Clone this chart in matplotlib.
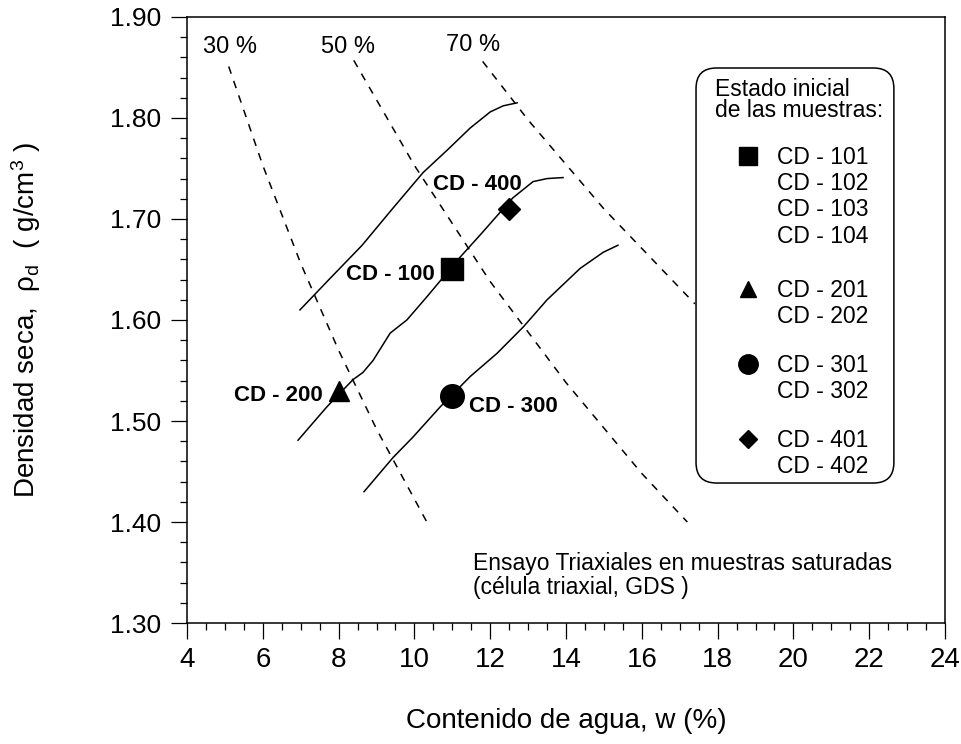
import matplotlib
matplotlib.use("Agg")
import matplotlib.pyplot as plt
from matplotlib.patches import FancyBboxPatch
from matplotlib.ticker import MultipleLocator, FormatStrFormatter

plt.rcParams['font.family'] = ['Liberation Sans', 'DejaVu Sans']
plt.rcParams['mathtext.fontset'] = 'custom'
plt.rcParams['mathtext.rm'] = 'Liberation Sans'
plt.rcParams['mathtext.it'] = 'Liberation Sans'

NARROW = ['Liberation Sans Narrow', 'Liberation Sans', 'DejaVu Sans']

# Saturation lines (Sr = 30, 50, 70 %)
w_sat30 = [5.1, 6.0, 7.0, 8.0, 9.0, 10.4]
rho_sat30 = [1.851, 1.753, 1.656, 1.570, 1.492, 1.395]
w_sat50 = [8.4, 10.0, 12.0, 14.0, 16.0, 17.2]
rho_sat50 = [1.857, 1.753, 1.638, 1.538, 1.448, 1.400]
w_sat70 = [11.8, 13.0, 15.0, 17.4]
rho_sat70 = [1.856, 1.798, 1.710, 1.616]
sat_labels = ['30 %', '50 %', '70 %']
sat_label_w = [4.42, 7.54, 10.83]
sat_label_rho = [1.864, 1.864, 1.866]

# Compaction curves
w_c1 = [6.98, 7.77, 8.62, 9.44, 10.23, 10.86, 11.47, 12.0, 12.34, 12.71]
rho_c1 = [1.610, 1.641, 1.674, 1.711, 1.746, 1.768, 1.790, 1.806, 1.812, 1.815]
w_c2 = [6.93, 7.69, 8.38, 8.64, 8.91, 9.36, 9.80, 10.33, 11.20, 11.73, 12.60, 13.13, 13.50, 13.92]
rho_c2 = [1.481, 1.514, 1.541, 1.548, 1.560, 1.587, 1.600, 1.623, 1.662, 1.684, 1.721, 1.737, 1.740, 1.741]
w_c3 = [8.67, 9.44, 9.96, 10.68, 11.47, 12.18, 12.87, 13.50, 14.37, 14.98, 15.37]
rho_c3 = [1.430, 1.464, 1.484, 1.514, 1.544, 1.567, 1.593, 1.620, 1.651, 1.667, 1.674]

# Initial state of the specimens
series = ['CD - 100', 'CD - 200', 'CD - 300', 'CD - 400']
w_init = [11.0, 8.0, 11.0, 12.5]
rho_init = [1.65, 1.53, 1.525, 1.71]
markers = ['s', '^', 'o', 'D']
msizes = [16.5, 15, 17, 11.5]
label_w = [10.54, 7.59, 11.44, 10.49]
label_rho = [1.6396, 1.520, 1.509, 1.7287]
label_ha = ['right', 'right', 'left', 'left']

legend_groups = [['CD - 101', 'CD - 102', 'CD - 103', 'CD - 104'],
                 ['CD - 201', 'CD - 202'],
                 ['CD - 301', 'CD - 302'],
                 ['CD - 401', 'CD - 402']]

fig = plt.figure(figsize=(9.61, 7.44), dpi=100)
ax = fig.add_axes([0.1946, 0.1626, 0.7888, 0.8146])

dash = (0, (5, 5))
for w, r in [(w_sat30, rho_sat30), (w_sat50, rho_sat50), (w_sat70, rho_sat70)]:
    ax.plot(w, r, color='black', lw=1.1, linestyle=dash, zorder=2)
for txt, x, y in zip(sat_labels, sat_label_w, sat_label_rho):
    ax.text(x, y, txt, fontsize=17, ha='left', va='baseline')

for w, r in [(w_c1, rho_c1), (w_c2, rho_c2), (w_c3, rho_c3)]:
    ax.plot(w, r, color='black', lw=1.1, zorder=3)

for i in range(len(series)):
    ax.plot(w_init[i], rho_init[i], marker=markers[i], ms=msizes[i],
            color='black', linestyle='none', zorder=4)
    ax.text(label_w[i], label_rho[i], series[i], fontsize=16, fontweight='bold',
            ha=label_ha[i], va='baseline', zorder=5)

ax.text(0.377, 0.0875, 'Ensayo Triaxiales en muestras saturadas',
        transform=ax.transAxes, fontsize=16.5, va='baseline')
ax.text(0.377, 0.048, '(célula triaxial, GDS )',
        transform=ax.transAxes, fontsize=16.5, va='baseline')

# Legend box drawn by hand
box = FancyBboxPatch((0.6715, 0.231), 0.261, 0.6848, transform=ax.transAxes,
                     boxstyle='round,pad=0,rounding_size=0.027', mutation_aspect=1.25,
                     facecolor='white', edgecolor='black', lw=1.1, zorder=6)
ax.add_patch(box)
ax.text(0.6966, 0.8696, 'Estado inicial', transform=ax.transAxes,
        fontsize=16.5, va='baseline', zorder=7)
ax.text(0.6966, 0.8350, 'de las muestras:', transform=ax.transAxes,
        fontsize=16.5, va='baseline', zorder=7)
row_base = [[0.7574, 0.7145, 0.6716, 0.6271],
            [0.5380, 0.4950],
            [0.4142, 0.3713],
            [0.2904, 0.2475]]
leg_ms = [13.5, 12, 14, 9.5]
for g, names in enumerate(legend_groups):
    ax.plot(0.7401, row_base[g][0] + 0.0132, marker=markers[g], ms=leg_ms[g],
            color='black', linestyle='none', transform=ax.transAxes, zorder=7)
    for name, yb in zip(names, row_base[g]):
        ax.text(0.7784, yb, name, transform=ax.transAxes,
                fontsize=16.5, va='baseline', zorder=7)

ax.set_xlim(4, 24)
ax.set_ylim(1.30, 1.90)
ax.xaxis.set_major_locator(MultipleLocator(2))
ax.xaxis.set_minor_locator(MultipleLocator(0.5))
ax.yaxis.set_major_locator(MultipleLocator(0.1))
ax.yaxis.set_minor_locator(MultipleLocator(0.02))
ax.yaxis.set_major_formatter(FormatStrFormatter('%.2f'))
ax.tick_params(which='both', direction='out', top=False, right=False, width=0.9)
ax.tick_params(which='major', length=11.3)
ax.tick_params(which='minor', length=5.3)
ax.tick_params(axis='y', which='major', labelsize=19, pad=7)
ax.tick_params(axis='x', which='major', pad=6)
for lab in ax.get_xticklabels():
    lab.set_family(NARROW)
    lab.set_fontsize(20)
for sp in ax.spines.values():
    sp.set_linewidth(1.1)

ax.set_xlabel('Contenido de agua, w (%)', fontsize=20, family=NARROW)
ax.xaxis.set_label_coords(0.5, -0.14)
ax.set_ylabel('Densidad seca,  ρ$_{\\mathrm{d}}$  ( g/cm$^{3}$ )', fontsize=20, family=NARROW)
ax.yaxis.set_label_coords(-0.19, 0.5)

fig.savefig('out.png', dpi=100)
